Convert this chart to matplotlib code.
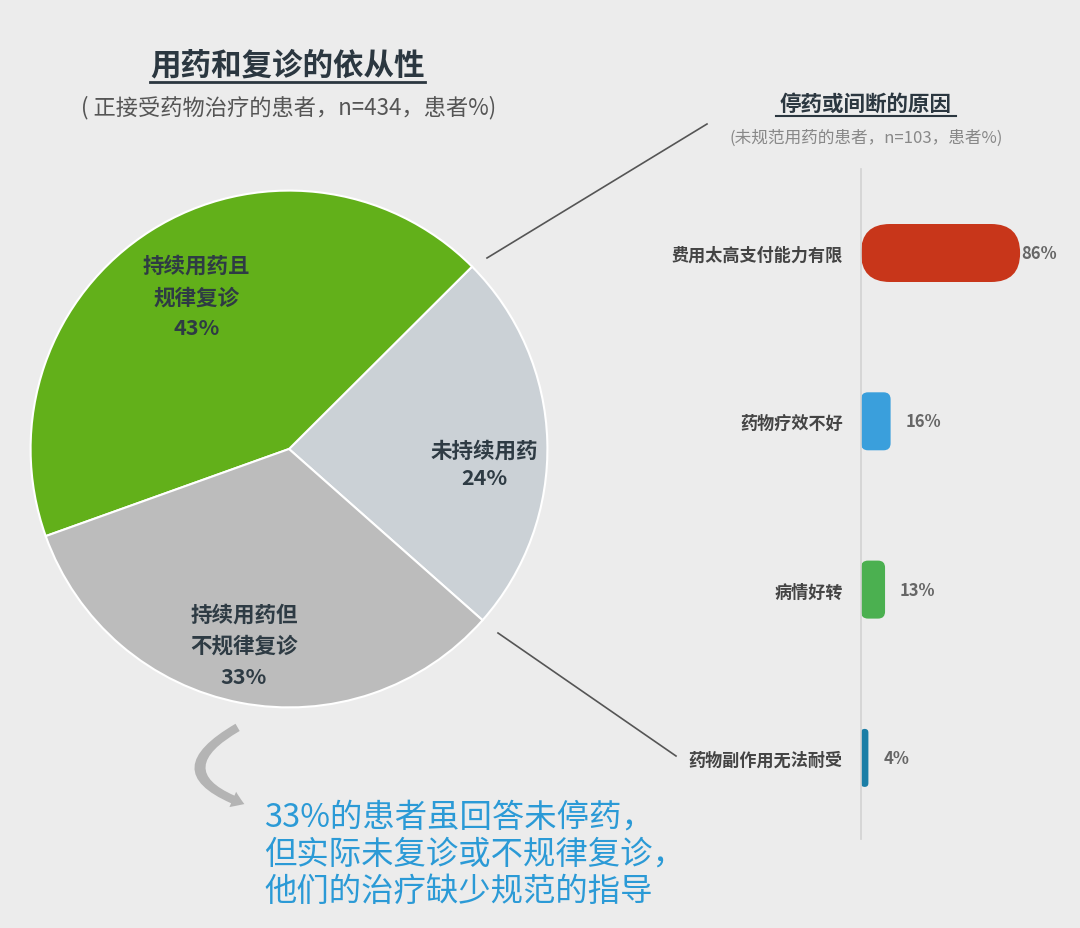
import matplotlib.pyplot as plt
from matplotlib.patches import FancyBboxPatch, FancyArrowPatch
from matplotlib.lines import Line2D
import numpy as np

plt.rcParams['font.family'] = ['Noto Sans CJK SC', 'DejaVu Sans']

# pie data
pie_labels = ["未持续用药", "持续用药且\n规律复诊", "持续用药但\n不规律复诊"]
pie_values = [24, 43, 33]
pie_colors = ["#cbd1d6", "#62b01a", "#bcbcbc"]

# bar data
reasons = ["费用太高支付能力有限", "药物疗效不好", "病情好转", "药物副作用无法耐受"]
reason_values = [86, 16, 13, 4]
reason_colors = ["#c8361a", "#3a9fdc", "#4bb050", "#1b7ea6"]

W, H = 1080, 929
BG = "#ececec"
fig = plt.figure(figsize=(W / 100, H / 100), dpi=100, facecolor=BG)


def fx(x):
    return x / W


def fy(y):
    return 1 - y / H


def box(left, top, width, height):
    return [left / W, 1 - (top + height) / H, width / W, height / H]


# ---- pie ----
cx, cy, r = 289, 450, 261
ax = fig.add_axes(box(cx - r, cy - r, 2 * r, 2 * r))
ax.set_facecolor(BG)
wedges, _ = ax.pie(pie_values, colors=pie_colors, startangle=-41.5, counterclock=True,
                   radius=1, wedgeprops=dict(edgecolor="white", linewidth=1.5))
ax.set_xlim(-1.01, 1.01)
ax.set_ylim(-1.01, 1.01)
ax.set_aspect("equal")
ax.axis("off")

label_dist = [0.76, 0.69, 0.78]
label_shift = [-6, -1, -2]
line_sp = [1.35, 1.6, 1.6]
for w, lab, v, d, s, ls in zip(wedges, pie_labels, pie_values, label_dist, label_shift, line_sp):
    ang = np.deg2rad((w.theta1 + w.theta2) / 2 + s)
    ax.text(d * np.cos(ang), d * np.sin(ang), f"{lab}\n{v}%", ha="center", va="center",
            fontsize=15.5, fontweight="bold", color="#2e3b44", linespacing=ls)

# ---- titles ----
fig.text(fx(288), fy(65), "用药和复诊的依从性", ha="center", va="center",
         fontsize=22, fontweight="bold", color="#2b3740")
fig.add_artist(Line2D([fx(150), fx(425)], [fy(83), fy(83)], color="#2b3740", lw=2))
fig.text(fx(289), fy(108), "( 正接受药物治疗的患者，n=434，患者%)", ha="center", va="center",
         fontsize=16, color="#555555")

fig.text(fx(866), fy(104), "停药或间断的原因", ha="center", va="center",
         fontsize=15.5, fontweight="bold", color="#2b3740")
fig.add_artist(Line2D([fx(776), fx(956)], [fy(117), fy(117)], color="#2b3740", lw=1.5))
fig.text(fx(866), fy(138), "(未规范用药的患者，n=103，患者%)", ha="center", va="center",
         fontsize=12, color="#888888")

# ---- bars ----
px_per_pct = 1.85
bx0, bw = 861, 210
row_px = 168.3
bax = fig.add_axes(box(bx0, 170, bw, 670))
bax.set_facecolor("none")
bax.set_xlim(0, bw / px_per_pct)
top_i = (170 - 254) / row_px
bot_i = (840 - 254) / row_px
bax.set_ylim(bot_i, top_i)
for sp in ["top", "right", "bottom"]:
    bax.spines[sp].set_visible(False)
bax.spines["left"].set_color("#d2d2d2")
bax.spines["left"].set_linewidth(1.2)
bax.set_xticks([])
bax.set_yticks(range(len(reasons)))
bax.set_yticklabels(reasons, fontsize=12.3, fontweight="bold", color="#444444")
bax.tick_params(axis="y", length=0, pad=13)

bar_h = 58 / row_px
aspect = (1 / row_px) / (1 / px_per_pct)
for i, (v, c) in enumerate(zip(reason_values, reason_colors)):
    rad_px = min(v * px_per_pct / 2, 29 if v > 50 else 7)
    p = FancyBboxPatch((0, i - bar_h / 2), v, bar_h,
                       boxstyle=f"round,pad=0,rounding_size={rad_px / px_per_pct}",
                       mutation_aspect=aspect, facecolor=c, edgecolor="none")
    bax.add_patch(p)
    bax.text(v + (0.5 if v > 50 else 8), i, f"{v}%", ha="left", va="center",
             fontsize=12, fontweight="bold", color="#666666")

# ---- connector lines ----
fig.add_artist(Line2D([fx(487), fx(707)], [fy(259), fy(125)], color="#555555", lw=1.2))
fig.add_artist(Line2D([fx(498), fx(676)], [fy(634), fy(757)], color="#555555", lw=1.2))

# ---- curved arrow and note ----
arrow = FancyArrowPatch((fx(240), fy(727)), (fx(247), fy(806)), transform=fig.transFigure,
                        connectionstyle="arc3,rad=1.1",
                        arrowstyle="simple,head_width=12,head_length=9,tail_width=6",
                        color="#b4b4b4", lw=0)
fig.add_artist(arrow)

note = "33%的患者虽回答未停药，\n但实际未复诊或不规律复诊，\n他们的治疗缺少规范的指导"
fig.text(fx(264), fy(855), note, ha="left", va="center", fontsize=23.3,
         color="#2b9ad6", linespacing=1.2)

fig.savefig("out.png", dpi=100, facecolor=BG)
